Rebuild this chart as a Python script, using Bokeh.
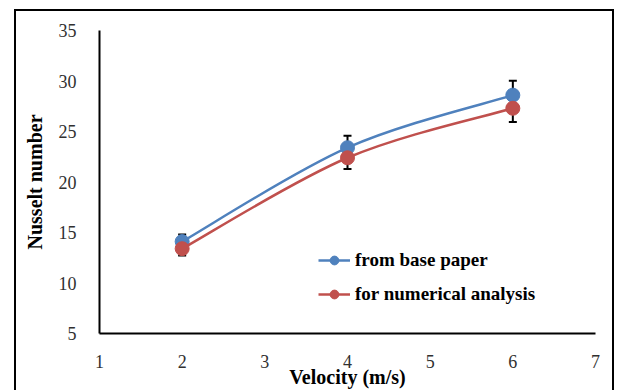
from bokeh.plotting import figure
from bokeh.models import ColumnDataSource, Whisker, TeeHead, Legend, LegendItem, FixedTicker, Range1d
from bokeh.embed import file_html
from bokeh.resources import INLINE

velocity = [2, 4, 6]
base_paper = [14.1, 23.4, 28.6]
numerical = [13.4, 22.4, 27.3]
error_pct = 0.05
x_ticks = [1, 2, 3, 4, 5, 6, 7]
y_ticks = [5, 10, 15, 20, 25, 30, 35]

BLUE = "#4F81BD"
RED = "#C0504D"
SERIF = "Liberation Serif"


def smooth_segments(xs, ys, t=1.0 / 6):
    """Catmull-Rom style bezier segments through the given data points."""
    n = len(xs)
    x0, y0, x1, y1, cx0, cy0, cx1, cy1 = [], [], [], [], [], [], [], []
    for i in range(n - 1):
        pm = (xs[max(i - 1, 0)], ys[max(i - 1, 0)])
        p0 = (xs[i], ys[i])
        p1 = (xs[i + 1], ys[i + 1])
        p2 = (xs[min(i + 2, n - 1)], ys[min(i + 2, n - 1)])
        x0.append(p0[0]); y0.append(p0[1]); x1.append(p1[0]); y1.append(p1[1])
        cx0.append(p0[0] + (p1[0] - pm[0]) * t); cy0.append(p0[1] + (p1[1] - pm[1]) * t)
        cx1.append(p1[0] - (p2[0] - p0[0]) * t); cy1.append(p1[1] - (p2[1] - p0[1]) * t)
    return dict(x0=x0, y0=y0, x1=x1, y1=y1, cx0=cx0, cy0=cy0, cx1=cx1, cy1=cy1)


p = figure(frame_width=496, frame_height=303, output_backend="svg", toolbar_location=None,
           x_range=Range1d(1, 7), y_range=Range1d(5, 35),
           min_border_left=83, min_border_right=17, min_border_top=19, min_border_bottom=40)
p.margin = (9, 0, 0, 14)
p.styles = {"border-top": "2px solid black", "border-left": "2px solid black",
            "border-right": "2px solid black"}
p.outline_line_color = None
p.xgrid.visible = False
p.ygrid.visible = False
p.background_fill_color = "white"
p.border_fill_color = "white"

for ax in (p.xaxis[0], p.yaxis[0]):
    ax.axis_line_color = "black"
    ax.axis_line_width = 2
    ax.major_tick_line_color = None
    ax.minor_tick_line_color = None
    ax.major_label_text_font = SERIF
    ax.major_label_text_font_size = "18px"
    ax.major_label_text_color = "#303030"
    ax.axis_label_text_font = SERIF
    ax.axis_label_text_font_style = "bold"
    ax.axis_label_text_font_size = "20px"
    ax.axis_label_text_color = "black"

p.xaxis.ticker = FixedTicker(ticks=x_ticks)
p.yaxis.ticker = FixedTicker(ticks=y_ticks)
p.xaxis.axis_label = "Velocity (m/s)"
p.yaxis.axis_label = "Nusselt number"
p.xaxis.major_label_standoff = 15
p.yaxis.major_label_standoff = 17
p.xaxis.axis_label_standoff = -5
p.yaxis.axis_label_standoff = 10

items = []
for name, vals, col in (("from base paper", base_paper, BLUE),
                        ("for numerical analysis", numerical, RED)):
    src = ColumnDataSource(dict(x=velocity, y=vals,
                                upper=[v * (1 + error_pct) for v in vals],
                                lower=[v * (1 - error_pct) for v in vals]))
    w = Whisker(base="x", upper="upper", lower="lower", source=src,
                line_color="black", line_width=2,
                upper_head=TeeHead(size=8, line_color="black", line_width=2),
                lower_head=TeeHead(size=8, line_color="black", line_width=2))
    p.add_layout(w)
    bez = p.bezier(source=ColumnDataSource(smooth_segments(velocity, vals)),
                   x0="x0", y0="y0", x1="x1", y1="y1", cx0="cx0", cy0="cy0", cx1="cx1", cy1="cy1",
                   line_color=col, line_width=2.5)
    sc = p.scatter("x", "y", source=src, size=14, fill_color=col, line_color=col)
    items.append(LegendItem(label=name, renderers=[bez, sc]))

legend = Legend(items=items, location=(219, 28), background_fill_alpha=0,
                border_line_color=None, label_text_font=SERIF, label_text_font_style="bold",
                label_text_font_size="19px", label_text_color="black",
                glyph_width=32, glyph_height=22, label_height=22, spacing=12,
                label_standoff=5, padding=0, margin=0)
p.add_layout(legend, "center")

open("out.html", "w").write(file_html(p, INLINE))
